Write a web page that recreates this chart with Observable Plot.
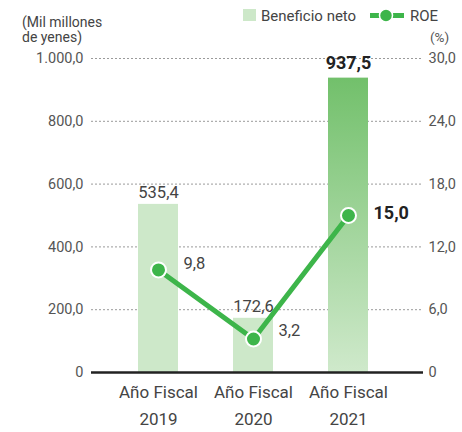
<!DOCTYPE html>
<html><head><meta charset="utf-8">
<script src="https://cdn.jsdelivr.net/npm/d3@7"></script>
<script src="https://cdn.jsdelivr.net/npm/@observablehq/plot@0.6"></script>
<style>body{margin:0;background:#fff}#chart{width:462px;height:432px}</style>
</head><body><div id="chart"></div>
<script>
const years = ["2019", "2020", "2021"];
const categories = years.map(y => "Año Fiscal\n" + y);
const netIncome = [535.4, 172.6, 937.5];
const netIncomeLabels = ["535,4", "172,6", "937,5"];
const roe = [9.8, 3.2, 15.0];
const roeLabels = ["9,8", "3,2", "15,0"];
const leftTicks = [0, 200, 400, 600, 800, 1000];
const leftTickLabels = ["0", "200,0", "400,0", "600,0", "800,0", "1.000,0"];
const rightTicks = [0, 6, 12, 18, 24, 30];
const rightTickLabels = ["0", "6,0", "12,0", "18,0", "24,0", "30,0"];
const latest = "2021";

const leftMax = 1000, roeMax = 30;
const toLeft = v => v / roeMax * leftMax;

const rows = years.map((y, i) => ({
  year: y, cat: categories[i], ni: netIncome[i], niLabel: netIncomeLabels[i],
  roe: roe[i], roeY: toLeft(roe[i]), roeLabel: roeLabels[i], bold: y === latest
}));

const GREEN = "#3db54a", LIGHT = "#cde8c9";

const defs = () => {
  const d = d3.create("svg:defs");
  const g = d.append("linearGradient").attr("id", "barGrad")
    .attr("x1", 0).attr("y1", 0).attr("x2", 0).attr("y2", 1);
  g.append("stop").attr("offset", "0%").attr("stop-color", "#72c06b");
  g.append("stop").attr("offset", "100%").attr("stop-color", "#cfe9cb");
  return d.node();
};

const roeDy = {"2019": -6, "2020": -8, "2021": -2};

const chart = Plot.plot({
  width: 462, height: 432,
  marginTop: 58, marginBottom: 60, marginLeft: 91, marginRight: 39,
  style: {fontFamily: "Roboto, sans-serif", fontSize: "14px", background: "white", color: "#444"},
  x: {domain: categories, range: [83, 423], padding: 55 / 95, axis: null},
  y: {domain: [0, leftMax]},
  marks: [
    defs,
    Plot.gridY(leftTicks.filter(t => t > 0), {stroke: "#9a9a9a", strokeOpacity: 1, strokeDasharray: "2,2"}),
    Plot.axisY(leftTicks, {anchor: "left", tickSize: 0, tickPadding: 8, fontSize: 14.5, fill: "#555", label: null,
      tickFormat: d => leftTickLabels[leftTicks.indexOf(d)]}),
    Plot.axisY(rightTicks.map(toLeft), {anchor: "right", tickSize: 0, tickPadding: 5, fontSize: 14.5, fill: "#555", label: null,
      tickFormat: d => rightTickLabels[rightTicks.findIndex(t => Math.abs(toLeft(t) - d) < 1e-6)]}),
    Plot.barY(rows.filter(d => !d.bold), {x: "cat", y: "ni", fill: LIGHT}),
    Plot.barY(rows.filter(d => d.bold), {x: "cat", y: "ni", fill: "url(#barGrad)"}),
    Plot.ruleY([0], {stroke: "#222", strokeWidth: 2.5}),
    Plot.text(rows.filter(d => !d.bold), {x: "cat", y: "ni", text: "niLabel", lineAnchor: "bottom", dy: -6, fontSize: 16.5, fill: "#444"}),
    Plot.text(rows.filter(d => d.bold), {x: "cat", y: "ni", text: "niLabel", lineAnchor: "bottom", dy: -9, fontSize: 18, fontWeight: "bold", fill: "#222"}),
    Plot.line(rows, {x: "cat", y: "roeY", stroke: GREEN, strokeWidth: 5}),
    Plot.dot(rows, {x: "cat", y: "roeY", r: 7.5, fill: GREEN, stroke: "white", strokeWidth: 2}),
    ...rows.map(r => Plot.text([r], {x: "cat", y: "roeY", text: "roeLabel", textAnchor: "start", dx: 25, dy: roeDy[r.year],
      fontSize: r.bold ? 18 : 16.5, fontWeight: r.bold ? "bold" : "normal", fill: r.bold ? "#222" : "#444"})),
    Plot.text(rows, {x: "cat", frameAnchor: "bottom", text: "cat", lineAnchor: "top", dy: 7, lineHeight: 1.55, fontSize: 17, fill: "#444"})
  ]
});

const svg = d3.select(chart);
const ann = svg.append("g").attr("font-family", "Roboto, sans-serif").attr("fill", "#444").attr("text-anchor", "start");
ann.append("text").attr("x", 22).attr("y", 27).attr("font-size", 14).text("(Mil millones");
ann.append("text").attr("x", 22).attr("y", 42).attr("font-size", 14).text("de yenes)");
ann.append("text").attr("x", 430).attr("y", 42).attr("font-size", 13.5).attr("fill", "#555").text("(%)");
ann.append("rect").attr("x", 243).attr("y", 9).attr("width", 13).attr("height", 12).attr("fill", LIGHT);
ann.append("text").attr("x", 261).attr("y", 21).attr("font-size", 15).text("Beneficio neto");
ann.append("line").attr("x1", 370).attr("x2", 404).attr("y1", 15.5).attr("y2", 15.5).attr("stroke", GREEN).attr("stroke-width", 5);
ann.append("circle").attr("cx", 386).attr("cy", 15.5).attr("r", 6.5).attr("fill", GREEN).attr("stroke", "white").attr("stroke-width", 1.5);
ann.append("text").attr("x", 410).attr("y", 21).attr("font-size", 15).text("ROE");

document.getElementById("chart").appendChild(chart);
</script>
</body></html>
